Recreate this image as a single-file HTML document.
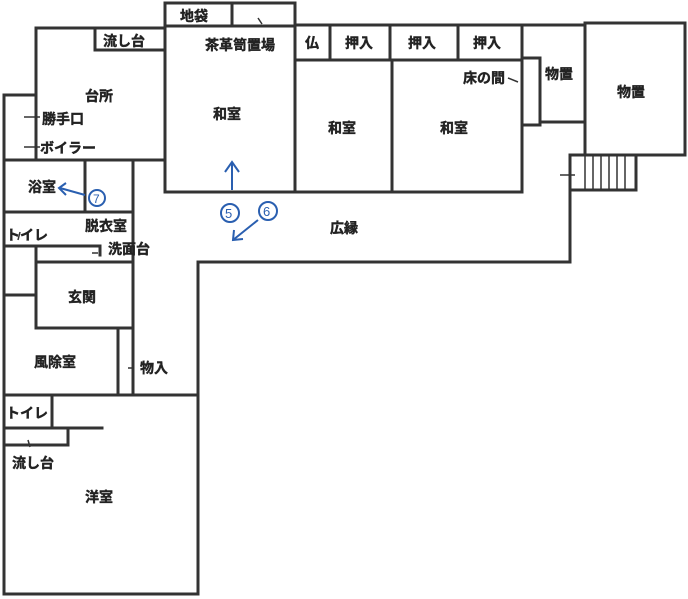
<!DOCTYPE html><html><head><meta charset="utf-8"><style>
body{margin:0;background:#fff}
svg{display:block}
text{font-family:"Liberation Sans","Noto Sans CJK JP",sans-serif;font-size:14px;font-weight:bold;fill:#222;stroke:#222;stroke-width:0.4}
</style></head><body>
<svg width="688" height="599" viewBox="0 0 688 599">
<g stroke="#333" stroke-width="3" fill="none" stroke-linecap="square">
<path d="M4 95 V594 H198 V262 H570 V155"/>
<path d="M4 95 H36 M36 28 V160 M36 28 H165 M95 28 V50 H165"/>
<path d="M165 3 H295 V26 M165 3 V192 H522 V25 M232 3 V26 M165 26 H295"/>
<path d="M295 25 H585 M295 25 V192 M330 25 V60 M390 25 V60 M458 25 V60 M295 60 H522 M392 60 V192"/>
<path d="M522 58 H540 V125 H522 M540 122 H585 M585 23 V155 H685 V23 H585"/>
<path d="M570 155 H636 V190 H570"/>
<path d="M4 160 H165 M133 160 V395 M85 160 V212 M4 212 H133"/>
<path d="M4 246 H100 V255 M36 246 V295 M4 295 H36 M36 262 H133 M36 262 V328 H133"/>
<path d="M118 328 V395 M4 395 H198 M52 395 V428 M4 428 H102 M68 428 V445 H4"/>
</g>
<g stroke="#333" stroke-width="1.5">
<path d="M585 155 V190 M593 155 V190 M601 155 V190 M609 155 V190 M617 155 V190 M625 155 V190"/>
<path d="M24 117 H40 M24 147 H40 M258 18 L262 24 M508 78 L518 82 M92 253 H98 M128 368 H134 M20 232 L18 240 M28 440 L30 447 M560 175 H575"/>
</g>
<g stroke="#2a5fb0" stroke-width="2" fill="none">
<path d="M232 190 V163 M225 172 L232 162 L239 172"/>
<path d="M258 220 L233 240 M234 230 L233 240 L243 239"/>
<path d="M85 195 L60 188 M66 183 L59 188 L66 195"/>
<circle cx="230" cy="213" r="9"/><circle cx="268" cy="211" r="9"/><circle cx="97" cy="198" r="8"/>
</g>
<text x="225" y="218" style="fill:#2a5fb0;stroke:none;font-weight:normal;font-size:13px">5</text>
<text x="263" y="216" style="fill:#2a5fb0;stroke:none;font-weight:normal;font-size:13px">6</text>
<text x="93" y="203" style="fill:#2a5fb0;stroke:none;font-weight:normal;font-size:12px">7</text>
<text x="180" y="21">地袋</text>
<text x="103" y="46">流し台</text>
<text x="205" y="50">茶革笥置場</text>
<text x="305" y="48">仏</text>
<text x="345" y="48">押入</text>
<text x="408" y="48">押入</text>
<text x="473" y="48">押入</text>
<text x="463" y="83">床の間</text>
<text x="545" y="79">物置</text>
<text x="617" y="97">物置</text>
<text x="85" y="101">台所</text>
<text x="213" y="119">和室</text>
<text x="328" y="133">和室</text>
<text x="440" y="133">和室</text>
<text x="42" y="124">勝手口</text>
<text x="40" y="153">ボイラー</text>
<text x="28" y="192">浴室</text>
<text x="85" y="231">脱衣室</text>
<text x="6" y="240">トイレ</text>
<text x="108" y="254">洗面台</text>
<text x="330" y="233">広縁</text>
<text x="68" y="302">玄関</text>
<text x="34" y="367">風除室</text>
<text x="140" y="373">物入</text>
<text x="6" y="418">トイレ</text>
<text x="12" y="468">流し台</text>
<text x="85" y="502">洋室</text>
</svg>
</body></html>
